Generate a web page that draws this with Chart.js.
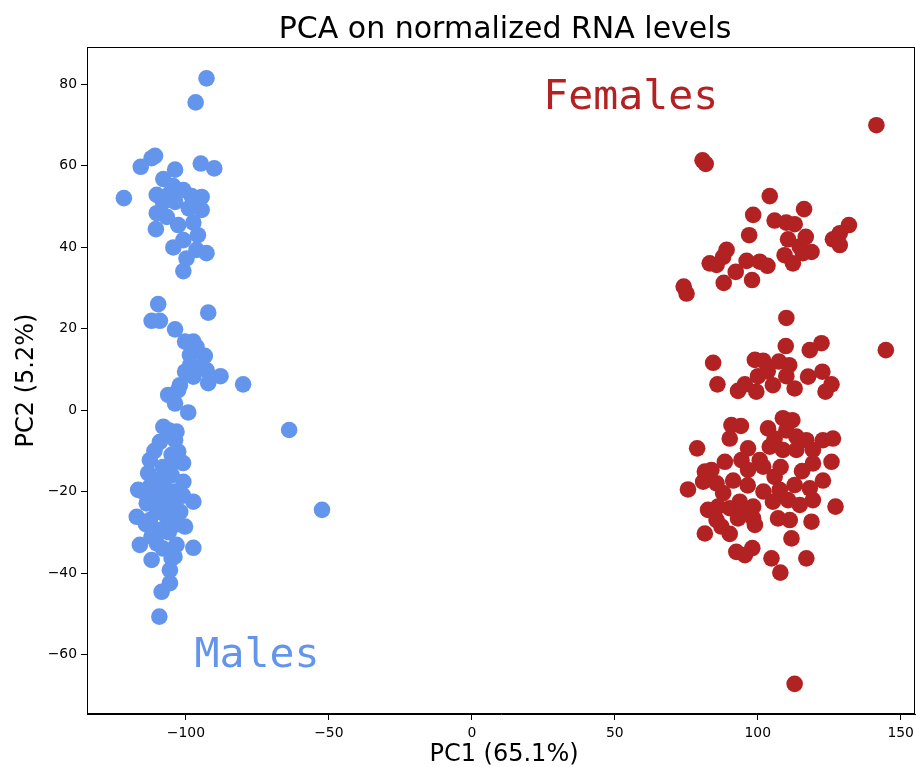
<!DOCTYPE html>
<html>
<head>
<meta charset="utf-8">
<script src="https://cdn.jsdelivr.net/npm/chart.js@4/dist/chart.umd.min.js"></script>
<style>
  body { margin: 0; background: #fff; }
  canvas { display: block; }
</style>
</head>
<body>
<canvas id="chart" width="916" height="767"></canvas>
<script>
const title = 'PCA on normalized RNA levels';
const xLabel = 'PC1 (65.1%)';
const yLabel = 'PC2 (5.2%)';

const xTicks = [-100, -50, 0, 50, 100, 150];
const yTicks = [-60, -40, -20, 0, 20, 40, 60, 80];

const maleX = [
  -92.8, -96.6, -121.7, -115.8, -112.0, -110.8, -103.8, -94.8, -90.1, -107.9,
  -110.2, -105.6, -100.9, -103.8, -94.5, -96.3, -94.5, -110.2, -106.7, -102.7,
  -97.4, -110.5, -95.8, -100.9, -104.4, -96.3, -92.8, -99.8, -100.9, -108.0,
  -99.0, -98.0, -104.5,
  -109.7, -112.0, -109.1, -92.2, -103.8, -100.3, -97.4, -96.3, -98.6, -93.4,
  -100.3, -97.4, -92.8, -92.2, -87.9, -80.0, -102.1, -102.7, -106.2, -103.8,
  -99.2, -63.9, -52.4, -95.5, -98.5,
  -107.9, -103.3, -109.1, -103.8, -102.7, -112.6, -104.4, -113.2, -100.9, -116.7,
  -112.6, -106.7, -97.4, -113.7, -109.1, -103.8, -117.2, -112.6, -106.7, -100.3,
  -109.1, -116.1, -110.2, -103.3, -97.4, -112.0, -105.0, -105.6, -105.6, -108.5,
  -109.3, -111.0, -108.0, -105.0, -110.0, -107.0, -104.0, -102.0, -110.0, -114.0,
  -106.0, -103.0, -109.0, -115.0, -101.0, -105.0, -108.0, -112.0, -104.0, -106.0,
  -101.0
];
const maleY = [
  81.4, 75.5, 52.0, 59.7, 61.8, 62.4, 59.0, 60.5, 59.3, 56.7,
  52.8, 53.2, 54.0, 51.1, 52.3, 50.8, 49.1, 48.3, 47.4, 45.4,
  46.0, 44.4, 42.9, 41.7, 39.9, 39.3, 38.5, 37.2, 34.1, 51.0,
  49.5, 52.5, 55.0,
  26.0, 21.9, 21.9, 23.9, 19.8, 16.8, 16.8, 15.5, 13.5, 13.3,
  9.4, 8.2, 9.8, 6.6, 8.3, 6.3, 6.1, 4.9, 3.7, 1.6,
  -0.6, -4.9, -24.5, 10.5, 11.0,
  -4.1, -5.3, -7.8, -7.4, -10.2, -12.3, -12.7, -15.5, -17.6, -19.6,
  -18.8, -19.6, -22.5, -22.9, -22.1, -23.7, -26.2, -27.0, -26.2, -28.6,
  -29.4, -33.1, -32.7, -33.1, -33.8, -36.8, -36.4, -39.3, -42.5, -44.6,
  -50.7, -10.0, -14.0, -16.0, -20.0, -23.0, -20.0, -25.0, -25.0, -28.0,
  -30.0, -28.0, -17.0, -20.0, -21.0, -11.0, -34.0, -31.0, -36.0, -5.0,
  -13.0
];

const femaleX = [
  141.5, 80.7, 81.8, 104.2, 98.4, 116.2, 105.9, 110.0, 112.9, 131.9,
  128.7, 126.3, 128.7, 97.0, 110.6, 116.8, 114.7, 118.8, 115.8, 109.4,
  112.3, 89.1, 87.9, 83.2, 85.6, 96.1, 100.7, 103.4, 92.3, 88.1,
  98.0, 74.1, 75.1, 110.0, 109.8, 118.2, 122.3, 144.8, 84.4, 99.0,
  101.9, 107.4, 85.9, 93.1, 95.5, 100.1, 99.5, 105.3, 110.0, 112.9,
  117.6, 122.6, 125.8, 123.7, 90.8, 94.1, 90.2, 103.6, 108.8, 112.1,
  113.5, 117.0, 122.8, 126.3, 78.8, 105.9, 104.2, 96.6, 88.5, 94.3,
  100.7, 108.8, 113.5, 119.3, 119.3, 125.8, 96.6, 101.9, 81.5, 83.8,
  91.4, 105.9, 122.8, 75.6, 80.9, 85.6, 87.9, 107.7, 112.9, 118.2,
  119.3, 105.3, 110.6, 114.7, 127.2, 82.6, 86.1, 90.2, 93.7, 98.4,
  94.9, 98.4, 93.1, 85.6, 107.1, 111.2, 118.8, 99.0, 87.3, 81.5,
  90.2, 111.8, 92.5, 98.1, 95.5, 104.8, 117.0, 107.9, 112.9, 110.0,
  115.5, 102.0, 108.0, 96.5, 111.0, 103.5
];
const femaleY = [
  69.9, 61.3, 60.4, 52.5, 47.9, 49.3, 46.5, 46.0, 45.6, 45.4,
  43.4, 41.9, 40.5, 42.9, 41.9, 42.5, 40.1, 38.8, 38.5, 38.0,
  36.0, 39.3, 37.6, 36.0, 35.6, 36.6, 36.4, 35.4, 33.9, 31.2,
  31.9, 30.3, 28.6, 22.6, 15.7, 14.7, 16.4, 14.7, 11.6, 12.3,
  12.1, 11.9, 6.3, 4.7, 6.3, 8.3, 4.5, 6.1, 8.3, 5.3,
  8.2, 9.4, 6.3, 4.5, -3.7, -3.9, -7.0, -4.5, -2.0, -2.5,
  -6.5, -7.4, -7.4, -7.0, -9.4, -7.0, -9.0, -9.4, -12.7, -12.3,
  -12.3, -9.8, -9.8, -9.8, -13.1, -12.7, -14.7, -13.9, -15.1, -14.7,
  -17.3, -16.4, -17.3, -19.5, -17.6, -18.0, -20.4, -19.6, -18.4, -19.2,
  -22.1, -22.5, -22.1, -23.3, -23.7, -24.5, -23.7, -24.1, -22.5, -23.7,
  -24.9, -26.6, -26.6, -27.0, -26.6, -27.0, -27.4, -28.2, -28.6, -30.3,
  -30.4, -31.5, -34.8, -33.9, -35.6, -36.4, -36.4, -39.9, -67.2, -5.0,
  -15.0, -20.0, -14.0, -18.5, 11.0, 9.5
];

// group labels written inside the plot, anchored at data coords (left, baseline)
const groupNames = ['Females', 'Males'];
const groupX = [25, -97];
const groupY = [74, -63];
const groupColors = ['#B22222', '#6495ED'];

const toPoints = (xs, ys) => xs.map((x, i) => ({ x: x, y: ys[i] }));
const minus = v => String(v).replace('-', '\u2212');

const sans = '"DejaVu Sans", sans-serif';

const decorPlugin = {
  id: 'decor',
  afterDraw(chart) {
    const ctx = chart.ctx;
    const area = chart.chartArea;
    const xs = chart.scales.x;
    const ys = chart.scales.y;
    ctx.save();
    // frame on all four sides
    ctx.strokeStyle = '#000';
    ctx.lineWidth = 1;
    ctx.strokeRect(area.left + 0.5, area.top + 0.5, area.right - area.left - 1, area.bottom - area.top - 1);

    ctx.fillStyle = '#000';
    ctx.textAlign = 'center';
    ctx.textBaseline = 'alphabetic';
    ctx.font = '30px ' + sans;
    ctx.fillText(title, (area.left + area.right) / 2 + 4, 38);

    ctx.font = '24px ' + sans;
    ctx.fillText(xLabel, (area.left + area.right) / 2 + 3, 761);

    ctx.save();
    ctx.translate(33, (area.top + area.bottom) / 2);
    ctx.rotate(-Math.PI / 2);
    ctx.fillText(yLabel, 0, 0);
    ctx.restore();

    ctx.textAlign = 'left';
    ctx.font = '41.5px "DejaVu Sans Mono", monospace';
    groupNames.forEach((name, i) => {
      ctx.fillStyle = groupColors[i];
      ctx.fillText(name, xs.getPixelForValue(groupX[i]), ys.getPixelForValue(groupY[i]));
    });
    ctx.restore();
  }
};

new Chart(document.getElementById('chart'), {
  type: 'scatter',
  data: {
    datasets: [
      {
        label: 'Males',
        data: toPoints(maleX, maleY),
        backgroundColor: '#6495ED',
        borderWidth: 0,
        pointRadius: 8.3,
      },
      {
        label: 'Females',
        data: toPoints(femaleX, femaleY),
        backgroundColor: '#B22222',
        borderWidth: 0,
        pointRadius: 8.3,
      },
    ],
  },
  options: {
    responsive: false,
    animation: false,
    layout: { autoPadding: false, padding: { top: 47, right: 1, left: 0, bottom: 0 } },
    plugins: {
      legend: { display: false },
      tooltip: { enabled: false },
      title: { display: false },
    },
    scales: {
      x: {
        type: 'linear',
        min: -134.6,
        max: 155,
        afterFit(scale) {
          scale.height = 53;
          scale.paddingLeft = 0;
          scale.paddingRight = 0;
        },
        afterBuildTicks(scale) { scale.ticks = xTicks.map(v => ({ value: v })); },
        grid: { drawOnChartArea: false, drawTicks: true, tickLength: 6, tickColor: '#000' },
        border: { display: true, color: '#000' },
        ticks: {
          color: '#000',
          padding: 5,
          maxRotation: 0,
          font: { family: sans, size: 13.9 },
          callback: v => minus(v),
        },
      },
      y: {
        type: 'linear',
        min: -74.6,
        max: 89.1,
        afterFit(scale) {
          scale.width = 87;
          scale.paddingTop = 0;
          scale.paddingBottom = 0;
        },
        afterBuildTicks(scale) { scale.ticks = yTicks.map(v => ({ value: v })); },
        grid: { drawOnChartArea: false, drawTicks: true, tickLength: 6, tickColor: '#000' },
        border: { display: true, color: '#000' },
        ticks: {
          color: '#000',
          padding: 4,
          font: { family: sans, size: 13.9 },
          callback: v => minus(v),
        },
      },
    },
  },
  plugins: [decorPlugin],
});
</script>
</body>
</html>
